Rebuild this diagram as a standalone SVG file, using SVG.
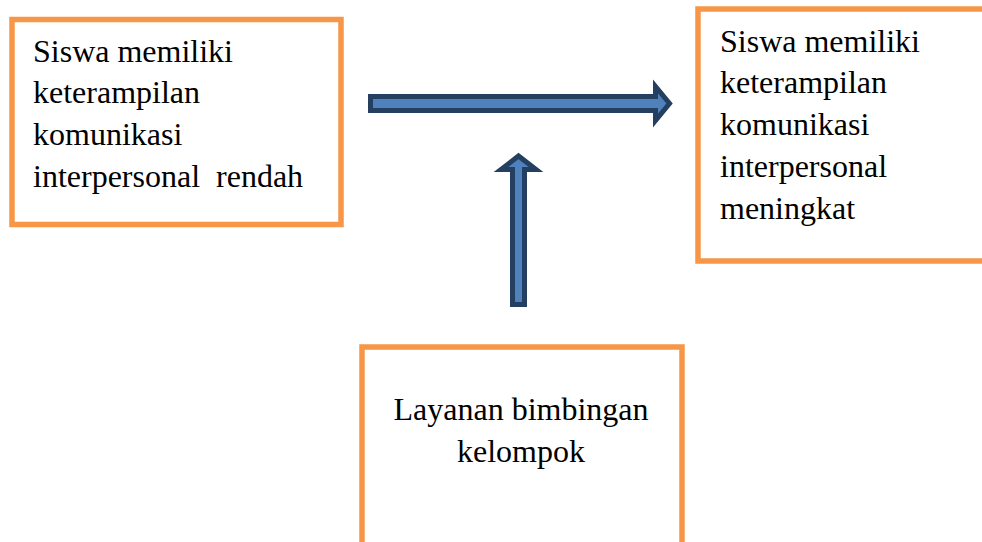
<svg xmlns="http://www.w3.org/2000/svg" width="982" height="542" viewBox="0 0 982 542">
<style>
.box{fill:#fff;stroke:#F79646;stroke-width:5.5}
.t{font-family:"Liberation Serif","Times New Roman",serif;font-size:32px;fill:#000}
.arr{fill:#4F81BD;stroke:#243F60;stroke-width:5;stroke-linejoin:miter}
</style>
<rect width="982" height="542" fill="#fff"/>
<g id="connectors">
<polygon class="arr" points="370.5,96.5 655.5,96.5 655.5,86.5 669.5,103.5 655.5,120.5 655.5,110.5 370.5,110.5"/>
<polygon class="arr" points="512.5,304.5 512.5,169.5 501,169.5 518.5,156 536,169.5 524.5,169.5 524.5,304.5"/>
</g>
<g id="node-rendah">
<rect class="box" x="12" y="19.5" width="329" height="205"/>
<text class="t" x="33" y="62">Siswa memiliki</text>
<text class="t" x="33" y="103">keterampilan</text>
<text class="t" x="33" y="145">komunikasi</text>
<text class="t" x="33" y="187" xml:space="preserve">interpersonal  rendah</text>
</g>
<g id="node-meningkat">
<rect class="box" x="698" y="9" width="300" height="252"/>
<text class="t" x="720" y="52">Siswa memiliki</text>
<text class="t" x="720" y="93">keterampilan</text>
<text class="t" x="720" y="135">komunikasi</text>
<text class="t" x="720" y="177">interpersonal</text>
<text class="t" x="720" y="219">meningkat</text>
</g>
<g id="node-layanan">
<rect class="box" x="362" y="347" width="320" height="220"/>
<text class="t" x="521" y="420" text-anchor="middle">Layanan bimbingan</text>
<text class="t" x="521" y="462" text-anchor="middle">kelompok</text>
</g>
</svg>
